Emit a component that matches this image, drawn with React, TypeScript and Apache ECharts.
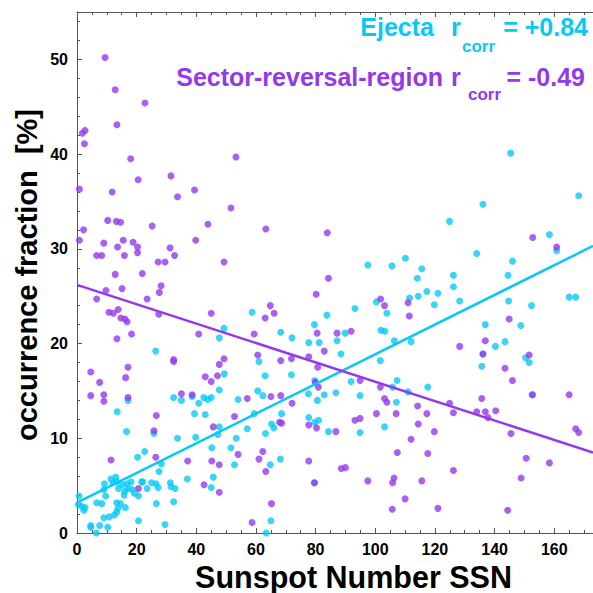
import React, { useEffect, useRef } from "react";
import * as echarts from "echarts";

const CYAN = "#08c9f5";
const PURPLE = "#9538ec";

// Ejecta occurrence fraction [%] vs SSN
const ejectaPoints: number[][] = [
  [145.4, 40.1], [136.1, 34.7], [168.2, 35.6], [124.9, 32.9], [134.0, 29.5], [158.4, 31.5], [160.8, 29.8],
  [97.5, 28.3], [105.6, 28.2], [110.1, 29.0], [115.6, 27.9], [114.1, 26.9], [126.2, 27.2], [126.2, 26.0],
  [146.0, 28.7], [144.5, 27.2], [111.5, 24.8], [114.4, 25.0], [117.3, 25.5], [121.0, 25.3], [128.3, 24.5],
  [119.8, 24.1], [100.4, 24.4], [103.9, 23.2], [93.2, 23.7], [83.8, 23.0], [79.6, 22.0], [144.7, 24.5],
  [152.4, 24.0], [165.0, 24.9], [167.2, 24.9], [136.9, 22.0], [148.8, 21.9], [101.9, 21.4], [103.2, 21.3],
  [89.9, 21.1], [87.2, 20.3], [77.7, 20.1], [81.2, 20.1], [88.5, 18.9], [106.4, 20.3], [112.0, 20.2],
  [140.3, 19.7], [143.5, 20.2], [136.1, 18.9], [135.7, 17.6], [150.4, 18.5], [151.6, 18.0], [101.7, 18.2],
  [91.9, 16.0], [107.3, 16.1], [117.6, 15.4], [105.8, 15.4], [111.0, 14.9], [94.9, 14.5], [107.1, 13.8],
  [77.6, 14.7], [80.6, 14.0], [82.9, 14.6], [86.8, 14.8], [79.7, 16.1], [77.7, 12.2], [79.7, 11.7],
  [81.0, 11.9], [84.3, 10.7], [94.9, 10.6], [103.1, 11.2], [152.8, 14.6], [79.6, 5.3],
  [58.7, 23.3], [49.3, 21.6], [47.7, 20.6], [26.4, 19.2], [68.3, 21.2], [72.1, 20.6], [61.0, 18.1],
  [63.1, 16.6], [49.4, 16.8], [71.9, 16.7], [47.7, 15.1], [32.4, 14.3], [35.0, 14.0], [38.6, 14.4],
  [40.8, 13.7], [42.5, 14.3], [43.8, 14.1], [45.0, 14.3], [54.0, 14.1], [60.6, 15.0], [62.3, 14.5],
  [17.1, 14.0], [13.5, 12.8], [39.4, 12.6], [43.0, 12.5], [59.4, 12.6], [68.6, 12.6], [16.6, 10.7],
  [25.8, 10.5], [33.7, 10.0], [39.8, 10.1], [47.7, 11.2], [47.2, 10.4], [57.1, 11.0], [63.2, 10.5],
  [66.0, 11.1], [65.2, 11.5], [53.4, 10.0], [22.7, 8.6], [20.3, 8.0], [45.2, 9.0], [51.6, 9.0],
  [52.8, 7.2], [68.2, 7.8], [64.8, 7.2], [28.3, 7.3], [27.5, 6.5], [37.0, 5.7], [45.7, 5.9],
  [45.0, 4.8], [21.7, 5.4], [25.0, 5.3], [26.5, 5.2], [27.2, 4.8], [31.3, 5.3], [31.5, 4.9],
  [32.9, 4.7], [23.5, 4.7], [26.6, 3.1], [32.4, 3.3], [20.6, 1.3], [29.5, 0.9], [63.4, 0.0], [65.0, 1.3],
  [0.7, 3.9], [0.4, 3.0], [1.6, 2.8], [2.3, 2.4], [2.7, 2.7], [4.6, 0.8], [4.6, 0.6], [6.5, 0.0],
  [7.6, 0.8], [10.3, 0.6], [6.6, 3.2], [8.3, 3.1], [9.0, 1.6], [10.8, 1.7], [12.5, 1.9], [13.3, 2.2],
  [13.7, 2.6], [13.3, 3.2], [14.6, 3.1], [16.2, 2.7], [9.2, 5.2], [9.0, 4.6], [9.6, 3.9], [11.4, 5.7],
  [12.0, 5.3], [13.0, 5.9], [13.3, 5.4], [13.9, 4.7], [15.2, 5.1], [15.8, 4.0], [16.0, 4.4], [18.1, 5.4],
  [18.5, 4.6], [19.2, 4.2], [20.6, 3.9], [17.2, 4.7], [16.7, 5.2], [22.0, 5.4],
];

// Sector-reversal-region occurrence fraction [%] vs SSN
const srrPoints: number[][] = [
  [9.4, 50.2], [12.8, 46.8], [22.8, 45.4], [13.4, 43.1], [1.8, 42.2], [2.7, 42.5], [2.5, 41.1],
  [18.0, 39.5], [53.3, 39.7], [0.8, 36.3], [20.5, 37.3], [11.8, 36.0], [31.5, 37.7], [33.7, 35.5],
  [39.4, 36.2], [51.6, 34.3], [10.3, 33.0], [13.2, 32.9], [14.6, 32.8], [2.2, 32.0], [25.2, 32.4],
  [43.9, 32.6], [63.3, 32.1], [0.8, 30.9], [9.0, 30.6], [15.5, 30.9], [18.8, 30.7], [39.8, 30.9],
  [13.6, 30.2], [20.3, 30.2], [20.3, 29.6], [31.2, 30.1], [6.6, 29.3], [8.3, 29.3], [15.9, 29.3],
  [32.7, 29.3], [27.2, 28.6], [29.5, 28.6], [49.3, 28.6], [12.8, 27.3], [21.9, 27.4], [9.7, 25.6],
  [15.1, 25.8], [6.6, 24.7], [23.5, 24.7], [28.2, 26.1], [27.6, 25.4], [10.7, 23.3], [12.2, 23.2],
  [13.8, 23.6], [14.7, 22.7], [16.1, 22.6], [16.8, 22.3], [27.4, 23.1], [13.4, 20.5], [18.3, 21.0],
  [45.0, 23.2], [40.8, 21.0], [59.4, 21.0], [64.8, 24.0], [66.1, 23.2], [63.1, 22.7], [80.2, 25.2],
  [80.5, 21.1], [17.1, 17.5], [16.3, 16.4], [4.6, 17.0], [7.6, 15.9], [4.6, 14.5], [9.0, 14.6],
  [9.0, 13.9], [17.1, 14.3], [32.4, 18.3], [32.4, 18.1], [49.3, 18.4], [47.7, 17.8], [43.0, 16.5],
  [45.0, 16.0], [47.1, 16.6], [35.0, 14.7], [38.6, 14.6], [57.1, 14.2], [60.6, 18.8], [68.3, 18.2],
  [71.9, 18.4], [77.7, 18.6], [80.7, 17.5], [65.0, 14.4], [68.3, 14.5], [72.1, 13.7], [79.9, 15.9],
  [80.9, 15.4], [26.6, 12.4], [25.8, 10.8], [45.7, 11.2], [52.8, 12.3], [67.9, 11.7], [68.6, 11.6],
  [77.7, 11.4], [80.3, 11.1], [11.4, 7.7], [26.4, 8.0], [37.1, 7.6], [45.2, 7.6], [47.7, 7.2],
  [54.0, 8.3], [61.0, 7.8], [62.3, 8.6], [63.3, 6.5], [77.7, 7.6], [79.6, 5.3], [20.6, 4.7],
  [42.6, 5.1], [47.7, 4.3], [65.2, 3.1], [58.7, 1.1],
  [83.9, 31.7], [84.3, 26.9], [152.8, 31.2], [160.8, 30.2], [101.8, 24.7], [103.1, 24.0], [111.0, 24.3],
  [111.4, 22.9], [144.9, 22.6], [87.2, 21.1], [91.9, 21.3], [128.3, 19.7], [136.1, 18.9], [151.6, 18.8],
  [136.9, 20.3], [82.9, 19.2], [143.5, 17.4], [146.0, 16.1], [152.6, 14.6], [165.0, 14.6], [94.9, 16.1],
  [101.7, 15.4], [103.1, 14.2], [103.9, 13.8], [86.8, 10.7], [93.2, 11.9], [94.9, 12.1], [100.4, 12.6],
  [107.0, 12.6], [114.2, 13.4], [117.3, 12.6], [114.4, 11.5], [119.8, 10.7], [112.0, 9.9], [124.9, 13.7],
  [126.2, 12.7], [135.7, 14.2], [134.0, 12.8], [136.9, 12.8], [137.8, 12.2], [140.4, 12.9], [145.5, 10.5],
  [167.2, 11.0], [168.2, 10.6], [150.6, 7.9], [158.4, 7.4], [148.9, 5.8], [88.6, 6.8], [90.0, 6.9],
  [97.5, 5.5], [106.3, 5.8], [105.8, 5.3], [115.6, 5.5], [126.2, 6.6], [107.4, 8.5], [117.6, 8.4],
  [110.0, 3.6], [105.7, 2.5], [121.0, 2.6], [144.4, 2.4],
];

// Linear fits (end points)
const ejectaFit: number[][] = [[0, 3.2], [173, 30.3]];
const srrFit: number[][] = [[0, 26.2], [173, 8.5]];

const X_MIN = 0;
const X_MAX = 173;
const Y_MIN = 0;
const Y_MAX = 55;
const X_MAJOR = 20;
const X_MINOR = 5;
const Y_MAJOR = 10;
const Y_MINOR = 2;

const legendEjecta = { name: "Ejecta", r: "r", sub: "corr", value: "= +0.84" };
const legendSrr = { name: "Sector-reversal-region", r: "r", sub: "corr", value: "= -0.49" };
const xTitle = "Sunspot Number SSN";
const yTitle = "occurrence fraction  [%]";

const FONT = '"Liberation Sans", Arial, Helvetica, sans-serif';
const AXIS_COLOR = "#555";

export default function App() {
  const ref = useRef<HTMLDivElement>(null);
  useEffect(() => {
    const chart = echarts.init(ref.current!, null, { renderer: "svg" });
    const lineStyle = { color: AXIS_COLOR, width: 1 };
    const baseX = (position: string, interval: number, len: number, labels: boolean, line: boolean) => ({
      type: "value",
      position,
      min: X_MIN,
      max: X_MAX,
      interval,
      axisLine: { show: line, onZero: false, lineStyle },
      axisTick: { show: true, inside: true, length: len, lineStyle },
      splitLine: { show: false },
      axisLabel: {
        show: labels,
        showMaxLabel: false,
        color: "#000",
        fontSize: 16,
        fontWeight: "bold",
        fontFamily: FONT,
        margin: 8,
      },
    });
    const baseY = (interval: number, len: number, labels: boolean, line: boolean) => ({
      type: "value",
      position: "left",
      min: Y_MIN,
      max: Y_MAX,
      interval,
      axisLine: { show: line, onZero: false, lineStyle },
      axisTick: { show: true, inside: true, length: len, lineStyle },
      splitLine: { show: false },
      axisLabel: {
        show: labels,
        showMaxLabel: false,
        color: "#000",
        fontSize: 16,
        fontWeight: "bold",
        fontFamily: FONT,
        margin: 9,
      },
    });
    const txt = (
      text: string,
      x: number,
      y: number,
      color: string,
      size: number,
      align: string,
      rotation = 0,
      lineHeight?: number
    ) => ({
      type: "text",
      x,
      y,
      rotation,
      silent: true,
      style: {
        text,
        fill: color,
        fontSize: size,
        fontWeight: "bold",
        fontFamily: FONT,
        align,
        verticalAlign: "middle",
        lineHeight: lineHeight ?? size,
      },
    });
    chart.setOption({
      animation: false,
      backgroundColor: "#fff",
      grid: { left: 77, top: 12, right: 0, bottom: 60, containLabel: false },
      xAxis: [
        baseX("bottom", X_MAJOR, 5, true, true),
        baseX("bottom", X_MINOR, 3, false, false),
        baseX("top", X_MAJOR, 5, false, true),
        baseX("top", X_MINOR, 3, false, false),
      ],
      yAxis: [baseY(Y_MAJOR, 5, true, true), baseY(Y_MINOR, 3, false, false)],
      series: [
        {
          name: "Ejecta",
          type: "scatter",
          xAxisIndex: 0,
          yAxisIndex: 0,
          data: ejectaPoints,
          symbol: "circle",
          symbolSize: 7,
          itemStyle: { color: CYAN },
          z: 2,
        },
        {
          name: "Sector-reversal-region",
          type: "scatter",
          xAxisIndex: 0,
          yAxisIndex: 0,
          data: srrPoints,
          symbol: "circle",
          symbolSize: 7,
          itemStyle: { color: PURPLE },
          z: 3,
        },
        {
          name: "Ejecta fit",
          type: "line",
          xAxisIndex: 0,
          yAxisIndex: 0,
          data: ejectaFit,
          symbol: "none",
          showSymbol: false,
          lineStyle: { color: CYAN, width: 2.5 },
          z: 4,
        },
        {
          name: "SRR fit",
          type: "line",
          xAxisIndex: 0,
          yAxisIndex: 0,
          data: srrFit,
          symbol: "none",
          showSymbol: false,
          lineStyle: { color: PURPLE, width: 2.5 },
          z: 4,
        },
      ],
      graphic: [
        txt(legendEjecta.name, 434, 26.5, CYAN, 25, "right"),
        txt(legendEjecta.r, 451, 26.5, CYAN, 25, "left"),
        txt(legendEjecta.sub, 462, 46, CYAN, 17, "left"),
        txt(legendEjecta.value, 588, 26.5, CYAN, 25, "right"),
        txt(legendSrr.name, 443, 76.5, PURPLE, 25, "right"),
        txt(legendSrr.r, 451, 76.5, PURPLE, 25, "left"),
        txt(legendSrr.sub, 468, 94.5, PURPLE, 17, "left"),
        txt(legendSrr.value, 585, 76.5, PURPLE, 25, "right"),
        txt(xTitle, 353.5, 577, "#000", 30.5, "center", 0, 26),
        txt(yTitle, 26.5, 275, "#000", 29, "center", Math.PI / 2),
      ],
    });
    return () => chart.dispose();
  }, []);
  return (
    <div
      ref={ref}
      style={{ position: "absolute", left: 0, top: 0, width: 593, height: 593, background: "#fff" }}
    />
  );
}
